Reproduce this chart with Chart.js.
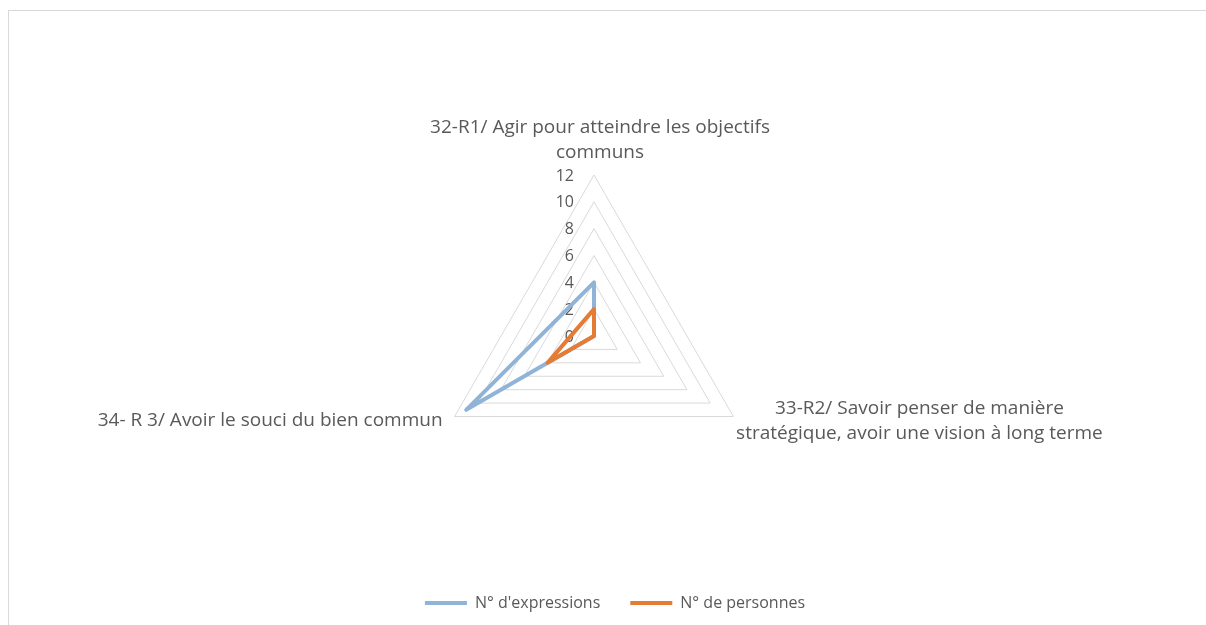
<!DOCTYPE html>
<html>
<head>
<meta charset="utf-8">
<script src="https://cdn.jsdelivr.net/npm/chart.js@4.4.1/dist/chart.umd.min.js"></script>
<style>
    html, body { margin: 0; padding: 0; background: #fff; }
    #wrap { position: relative; width: 1206px; height: 625px; overflow: hidden; }
    #frame { position: absolute; left: 8px; top: 10px; width: 1300px; height: 700px; border-top: 1px solid #d9d9d9; border-left: 1px solid #d9d9d9; }
    canvas { position: absolute; left: 0; top: 0; }
</style>
</head>
<body>
<div id="wrap">
    <div id="frame"></div>
    <canvas id="radar-chart" width="1206" height="625"></canvas>
</div>
<script>
// Data
const axisLabels = [
    ['32-R1/ Agir pour atteindre les objectifs', 'communs'],
    ['33-R2/ Savoir penser de manière', 'stratégique, avoir une vision à long terme'],
    ['34- R 3/ Avoir le souci du bien commun']
];
const seriesNames = ["N° d'expressions", 'N° de personnes'];
const expressions = [4, 0, 11];
const personnes = [2, 0, 4];
const tickMin = 0;
const tickMax = 12;
const tickStep = 2;

const textColor = '#595959';
const fontFamily = '"Open Sans", "Noto Sans", sans-serif';

// Tick values and axis titles drawn next to the polygon, like Excel does
const radarText = {
    id: 'radarText',
    beforeDatasetsDraw(chart) {
        const scale = chart.scales.r;
        const ctx = chart.ctx;
        ctx.save();
        ctx.fillStyle = textColor;

        ctx.font = '16px ' + fontFamily;
        ctx.textAlign = 'right';
        ctx.textBaseline = 'middle';
        scale.ticks.forEach(tick => {
            const y = scale.yCenter - scale.getDistanceFromCenterForValue(tick.value);
            ctx.fillText(String(tick.value), scale.xCenter - 20, y + 1);
        });

        ctx.font = '19px ' + fontFamily;
        const place = [
            { dx: 6, dy: -47, align: 'center' },
            { dx: 186, dy: -8, align: 'center' },
            { dx: -12, dy: 4, align: 'right' }
        ];
        axisLabels.forEach((lines, i) => {
            const p = scale.getPointPositionForValue(i, tickMax);
            ctx.textAlign = place[i].align;
            lines.forEach((line, j) => {
                ctx.fillText(line, p.x + place[i].dx, p.y + place[i].dy + j * 25);
            });
        });
        ctx.restore();
    }
};

const ctx = document.getElementById('radar-chart').getContext('2d');
new Chart(ctx, {
    type: 'radar',
    data: {
        labels: axisLabels,
        datasets: [{
            label: seriesNames[0],
            data: expressions,
            borderColor: '#8FB4D8',
            backgroundColor: '#8FB4D8',
            borderWidth: 4,
            borderJoinStyle: 'round',
            pointRadius: 0,
            fill: false,
            order: 1
        }, {
            label: seriesNames[1],
            data: personnes,
            borderColor: '#E47C35',
            backgroundColor: '#E47C35',
            borderWidth: 4,
            borderJoinStyle: 'round',
            pointRadius: 0,
            fill: false,
            order: 0
        }]
    },
    options: {
        responsive: false,
        animation: false,
        layout: { padding: { left: 24, top: 175, bottom: 4 } },
        plugins: {
            tooltip: { enabled: false },
            legend: {
                position: 'bottom',
                labels: {
                    boxWidth: 42,
                    boxHeight: 4,
                    padding: 30,
                    color: textColor,
                    font: { family: fontFamily, size: 16 },
                    sort: (a, b) => a.datasetIndex - b.datasetIndex,
                    generateLabels: chart => Chart.defaults.plugins.legend.labels.generateLabels(chart)
                        .map(item => ({ ...item, lineWidth: 0 }))
                }
            }
        },
        scales: {
            r: {
                min: tickMin,
                max: tickMax,
                ticks: { stepSize: tickStep, display: false },
                grid: { color: '#d9d9d9', lineWidth: 1 },
                angleLines: { display: false },
                pointLabels: { display: false },
                afterFit: scale => {
                    scale.xCenter = 594;
                    scale.yCenter = 336;
                    scale.drawingArea = 161;
                }
            }
        }
    },
    plugins: [radarText]
});
</script>
</body>
</html>
